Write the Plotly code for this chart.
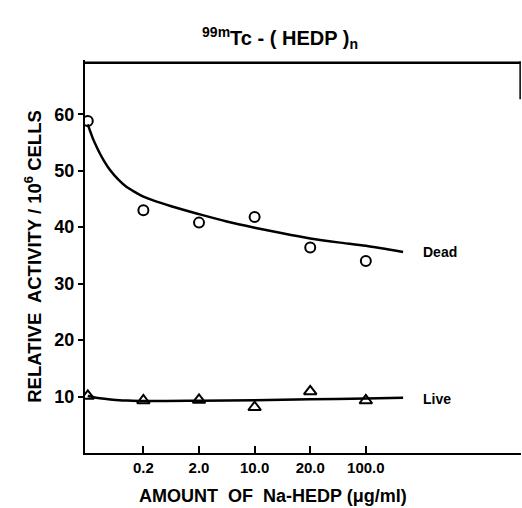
import plotly.graph_objects as go

# ---- data ----
x_labels = ["", "0.2", "2.0", "10.0", "20.0", "100.0"]
dead_pts = [58.8, 43.0, 40.8, 41.8, 36.4, 34.0]
live_pts = [10.1, 9.3, 9.4, 8.1, 10.9, 9.3]

dead_curve_x = [0, 0.05, 0.1, 0.16, 0.22, 0.3, 0.4, 0.55, 0.7, 0.85, 1.0, 1.5, 2.0, 2.5, 3.0, 3.5, 4.0, 4.5, 5.0, 5.67]
dead_curve_y = [58.2, 56.8, 55.5, 54.2, 53.0, 51.6, 50.1, 48.4, 47.1, 46.2, 45.4, 43.7, 42.3, 41.0, 39.9, 38.9, 38.0, 37.3, 36.7, 35.6]
live_curve_x = [0, 0.15, 0.3, 0.5, 0.7, 1.0, 2.0, 3.0, 4.0, 5.0, 5.67]
live_curve_y = [10.1, 9.8, 9.6, 9.4, 9.3, 9.2, 9.25, 9.35, 9.5, 9.65, 9.8]

y_ticks = [10, 20, 30, 40, 50, 60]

FONT = "Liberation Sans, Arial, sans-serif"
xi = list(range(len(x_labels)))

fig = go.Figure()
fig.add_trace(go.Scatter(x=dead_curve_x, y=dead_curve_y, mode="lines",
                         line=dict(color="black", width=2.5, shape="spline", smoothing=0.8),
                         showlegend=False, hoverinfo="skip"))
fig.add_trace(go.Scatter(x=live_curve_x, y=live_curve_y, mode="lines",
                         line=dict(color="black", width=2.5, shape="spline", smoothing=0.8),
                         showlegend=False, hoverinfo="skip"))
fig.add_trace(go.Scatter(x=xi, y=dead_pts, mode="markers", name="Dead",
                         marker=dict(symbol="circle-open", size=10, color="black",
                                     line=dict(width=2, color="black")),
                         showlegend=False))
fig.add_trace(go.Scatter(x=xi, y=live_pts, mode="markers", name="Live",
                         marker=dict(symbol="triangle-up-open", size=11, color="black",
                                     line=dict(width=2, color="black")),
                         showlegend=False))

fig.add_annotation(x=6.0, y=dead_curve_y[-1], text="<b>Dead</b>", showarrow=False,
                   xanchor="left", yanchor="middle",
                   font=dict(family=FONT, size=14, color="black"))
fig.add_annotation(x=6.0, y=live_curve_y[-1] - 0.3, text="<b>Live</b>", showarrow=False,
                   xanchor="left", yanchor="middle",
                   font=dict(family=FONT, size=14, color="black"))

# x-axis title (offset left of plot center as in reference)
fig.add_annotation(xref="paper", yref="paper", x=(273 - 85) / 436, y=-43 / 393,
                   text="<b>AMOUNT  OF  Na-HEDP (μg/ml)</b>", showarrow=False,
                   xanchor="center", yanchor="middle",
                   font=dict(family=FONT, size=18, color="black"))

# box top border (filled band) and short right edge line
fig.add_shape(type="rect", xref="paper", yref="paper", x0=0, x1=0.998,
              y0=1 - 4 / 393, y1=1 - 1.5 / 393,
              line=dict(color="black", width=0), fillcolor="black", layer="above")
fig.add_shape(type="line", xref="paper", yref="paper", x0=0.998, x1=0.998, y0=0.997, y1=0.9,
              line=dict(color="black", width=1.5), layer="above")

fig.update_layout(
    width=522, height=508,
    margin=dict(l=85, r=1, t=60, b=55, autoexpand=False),
    paper_bgcolor="white", plot_bgcolor="white",
    font=dict(family=FONT, color="black"),
    title=dict(text="<b><sup>99m</sup>Tc - ( HEDP )<sub>n</sub></b>", x=280 / 522, xanchor="center",
               y=1 - 38 / 508, yanchor="middle", xref="container", yref="container",
               font=dict(family=FONT, size=20, color="black"), automargin=False),
    xaxis=dict(range=[-0.05, 7.79], tickvals=xi[1:], ticktext=["<b>%s</b>" % t for t in x_labels[1:]],
               showgrid=False, zeroline=False, showline=True, linecolor="black",
               linewidth=2, ticks="inside", ticklen=7, tickwidth=2,
               tickcolor="black", automargin=False,
               tickfont=dict(family=FONT, size=15, color="black")),
    yaxis=dict(range=[0, 69.6], tickvals=y_ticks, ticktext=["<b>%d</b>" % v for v in y_ticks],
               showgrid=False, zeroline=False, showline=True, linecolor="black",
               linewidth=2, ticks="outside", ticklen=5, tickwidth=2, tickcolor="black",
               automargin=False,
               tickfont=dict(family=FONT, size=18, color="black"),
               title=dict(text="<b>RELATIVE  ACTIVITY / 10<sup>6</sup> CELLS</b>",
                          font=dict(family=FONT, size=18.5, color="black"), standoff=8)),
)

fig.write_html("out.html", config={"displayModeBar": False},
               post_script="document.body.style.margin='0';document.body.style.overflow='hidden';")
